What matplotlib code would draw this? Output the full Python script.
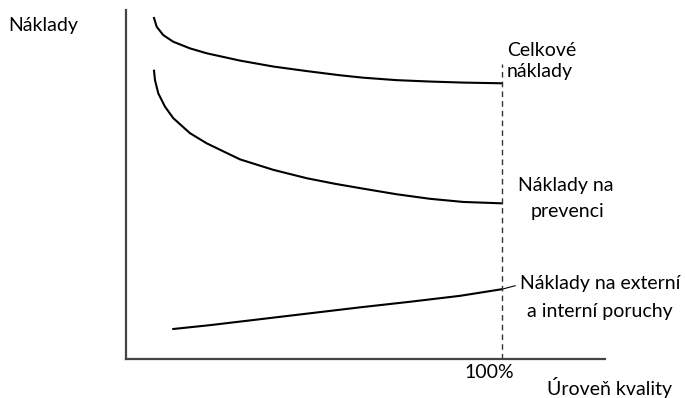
import matplotlib.pyplot as plt

plt.rcParams['font.family'] = ['Lato', 'DejaVu Sans']

# kvalita (%) a naklady (relativni jednotky)
x_celkove = [7.45, 8.16, 9.92, 12.58, 17.02, 21.46, 30.32, 39.18, 48.06,
             56.91, 63.11, 72.0, 80.85, 89.71, 100]
y_celkove = [97.7, 95.2, 92.8, 90.9, 89.0, 87.6, 85.5, 83.8, 82.5,
             81.3, 80.6, 79.9, 79.5, 79.2, 79.0]

x_prevence = [7.45, 7.71, 8.59, 10.37, 12.58, 17.02, 21.46, 30.32, 39.18,
              48.06, 55.59, 63.11, 72.0, 80.85, 89.71, 100]
y_prevence = [82.6, 79.9, 76.1, 72.3, 69.0, 64.7, 61.8, 57.2, 54.2,
              51.8, 50.2, 48.8, 47.2, 45.9, 45.0, 44.6]

x_poruchy = [12.58, 22.34, 35.64, 48.94, 62.23, 75.53, 88.83, 100]
y_poruchy = [8.6, 9.7, 11.4, 13.1, 14.8, 16.4, 18.1, 20.0]

W, H = 685, 398
fig = plt.figure(figsize=(W / 100, H / 100), dpi=100)

# osy v pixelech obrazku
left, right, top, bottom = 126, 605, 10, 359
ax = fig.add_axes([left / W, 1 - bottom / H, (right - left) / W, (bottom - top) / H])
ax.set_xlim(0, (right - left) / 3.76)
ax.set_ylim(0, 100)

for s in ['top', 'right']:
    ax.spines[s].set_visible(False)
for s in ['left', 'bottom']:
    ax.spines[s].set_color('#444444')
    ax.spines[s].set_linewidth(1.6)
ax.set_xticks([])
ax.set_yticks([])

ax.plot(x_celkove, y_celkove, color='black', lw=1.5)
ax.plot(x_prevence, y_prevence, color='black', lw=1.5)
ax.plot(x_poruchy, y_poruchy, color='black', lw=1.5)
ax.plot([100, 103.5], [20.0, 21.0], color='black', lw=0.8)

# svisla carkovana cara na 100 %
ax.plot([100, 100], [0, 84.5], color='#333333', lw=1.0, ls=(0, (4, 3)))

def px(x, y):
    return x / W, 1 - y / H

fs = 14
fig.text(*px(8, 26), 'Náklady', fontsize=fs, va='center', ha='left')
fig.text(*px(507, 50), 'Celkové', fontsize=fs, va='center', ha='left')
fig.text(*px(507, 71), 'náklady', fontsize=fs, va='center', ha='left')
fig.text(*px(566, 186), 'Náklady na', fontsize=fs, va='center', ha='center')
fig.text(*px(567, 211), 'prevenci', fontsize=fs, va='center', ha='center')
fig.text(*px(600, 283), 'Náklady na externí', fontsize=fs, va='center', ha='center')
fig.text(*px(600, 312), 'a interní poruchy', fontsize=fs, va='center', ha='center')
fig.text(*px(489, 373), '100%', fontsize=fs, va='center', ha='center')
fig.text(*px(547, 387), 'Úroveň kvality', fontsize=fs, va='center', ha='left')

fig.savefig('out.png', dpi=100)
